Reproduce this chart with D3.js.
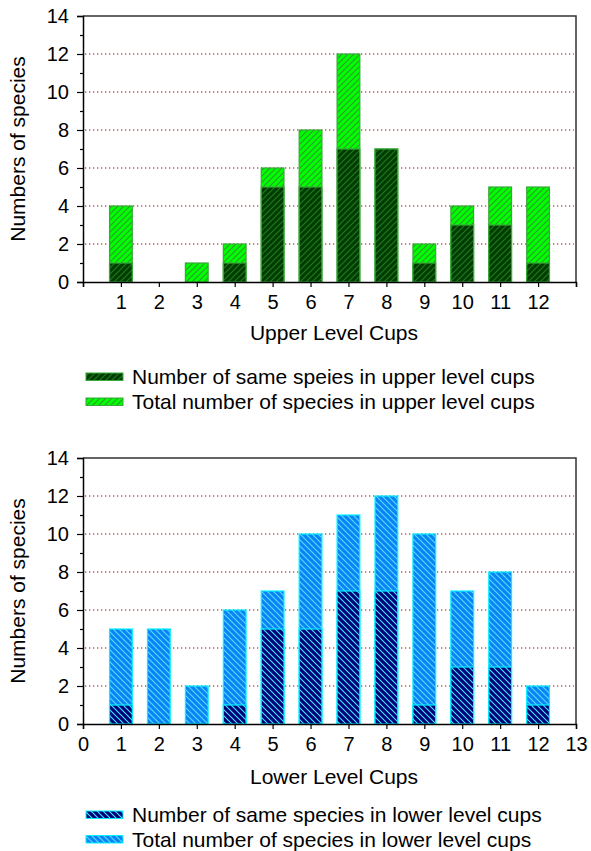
<!DOCTYPE html>
<html>
<head>
<meta charset="utf-8">
<script src="https://cdn.jsdelivr.net/npm/d3@7"></script>
<style>
  html, body { margin: 0; padding: 0; background: #fff; }
  svg { display: block; font-family: "Liberation Sans", Arial, Helvetica, sans-serif; }
</style>
</head>
<body>
<svg id="chart" width="591" height="851"></svg>
<script>
// Cup positions along the x axis
const cups = [1, 2, 3, 4, 5, 6, 7, 8, 9, 10, 11, 12];

// Upper level cups
const upperSame  = [1, 0, 0, 1, 5, 5, 7, 7, 1, 3, 3, 1];
const upperTotal = [4, 0, 1, 2, 6, 8, 12, 7, 2, 4, 5, 5];

// Lower level cups
const lowerSame  = [1, 0, 0, 1, 5, 5, 7, 7, 1, 3, 3, 1];
const lowerTotal = [5, 5, 2, 6, 7, 10, 11, 12, 10, 7, 8, 2];

// Axis ticks
const yMajorTicks = [0, 2, 4, 6, 8, 10, 12, 14];
const yMinorTicks = [1, 3, 5, 7, 9, 11, 13];
const yGridTicks = [2, 4, 6, 8, 10, 12];
const xTicks = [0, 1, 2, 3, 4, 5, 6, 7, 8, 9, 10, 11, 12, 13];
const upperXLabels = [1, 2, 3, 4, 5, 6, 7, 8, 9, 10, 11, 12];
const lowerXLabels = [0, 1, 2, 3, 4, 5, 6, 7, 8, 9, 10, 11, 12, 13];

const svg = d3.select("#chart");
const defs = svg.append("defs");

// Diagonal hatch patterns
function hatch(id, bg, line, dir) {
  const s = 6;
  const p = defs.append("pattern")
    .attr("id", id)
    .attr("patternUnits", "userSpaceOnUse")
    .attr("width", s).attr("height", s);
  p.append("rect").attr("width", s).attr("height", s).attr("fill", bg);
  const d = dir === "/"
    ? `M0,${s} L${s},0 M${-1},1 L1,${-1} M${s - 1},${s + 1} L${s + 1},${s - 1}`
    : `M0,0 L${s},${s} M${-1},${s - 1} L1,${s + 1} M${s - 1},${-1} L${s + 1},1`;
  p.append("path").attr("d", d).attr("stroke", line).attr("stroke-width", 1.1).attr("fill", "none");
}
hatch("upSame", "#003c00", "#1f7a1f", "/");
hatch("upTotal", "#00ff00", "#2a9a2a", "/");
hatch("loSame", "#000078", "#40e8ff", "\\");
hatch("loTotal", "#0a84f5", "#55dcff", "\\");

const left = 83, right = 576;
const x = d3.scaleLinear().domain([0, 13]).range([left, right]);
const barW = (x(1) - x(0)) * 0.6;
const FONT = "'Liberation Sans', Arial, sans-serif";

function panel(cfg) {
  const y = d3.scaleLinear().domain([0, 14]).range([cfg.bottom, cfg.top]);
  const g = svg.append("g");

  // dotted grid lines
  g.append("g").selectAll("line").data(yGridTicks).join("line")
    .attr("x1", left + 2).attr("x2", right - 2)
    .attr("y1", d => y(d)).attr("y2", d => y(d))
    .attr("stroke", "#a00000").attr("stroke-width", 1)
    .attr("stroke-dasharray", "1.3,2.7");

  // frame: top and right edges
  g.append("path")
    .attr("d", `M${left},${cfg.top} H${right} V${cfg.bottom}`)
    .attr("fill", "none").attr("stroke", "#333").attr("stroke-width", 1.5);

  // total bars behind, same-species bars in front
  const bars = g.append("g");
  bars.selectAll("rect.total").data(cups.map((c, i) => ({ c, v: cfg.total[i] })).filter(d => d.v > 0))
    .join("rect").attr("class", "total")
    .attr("x", d => x(d.c) - barW / 2).attr("width", barW)
    .attr("y", d => y(d.v)).attr("height", d => y(0) - y(d.v))
    .attr("fill", `url(#${cfg.totalPat})`)
    .attr("stroke", cfg.border).attr("stroke-width", 1.2);
  bars.selectAll("rect.same").data(cups.map((c, i) => ({ c, v: cfg.same[i] })).filter(d => d.v > 0))
    .join("rect").attr("class", "same")
    .attr("x", d => x(d.c) - barW / 2).attr("width", barW)
    .attr("y", d => y(d.v)).attr("height", d => y(0) - y(d.v))
    .attr("fill", `url(#${cfg.samePat})`)
    .attr("stroke", cfg.border).attr("stroke-width", 1.2);

  // y axis
  const yAxis = g.append("g").attr("transform", `translate(${left},0)`)
    .call(d3.axisLeft(y).tickValues(yMajorTicks).tickSize(6).tickPadding(8).tickFormat(d3.format("d")));
  yAxis.select(".domain").attr("stroke", "#000").attr("stroke-width", 1.5);
  yAxis.selectAll(".tick line").attr("stroke", "#000").attr("stroke-width", 1.2);
  yAxis.selectAll("text").attr("font-size", 20).attr("fill", "#000").attr("font-family", FONT);
  const yMinor = g.append("g").attr("transform", `translate(${left},0)`)
    .call(d3.axisLeft(y).tickValues(yMinorTicks).tickSize(3).tickFormat(""));
  yMinor.select(".domain").remove();
  yMinor.selectAll(".tick line").attr("stroke", "#000").attr("stroke-width", 1.2);

  // x axis
  const xAxis = g.append("g").attr("transform", `translate(0,${cfg.bottom})`)
    .call(d3.axisBottom(x).tickValues(xTicks).tickSize(5).tickPadding(8)
      .tickFormat(d => cfg.xLabels.includes(d) ? d : ""));
  xAxis.select(".domain").attr("stroke", "#000").attr("stroke-width", 1.5);
  xAxis.selectAll(".tick line").attr("stroke", "#000").attr("stroke-width", 1.2);
  xAxis.selectAll("text").attr("font-size", 20).attr("fill", "#000").attr("font-family", FONT);

  // titles
  g.append("text")
    .attr("transform", `translate(25,${(cfg.top + cfg.bottom) / 2}) rotate(-90)`)
    .attr("text-anchor", "middle").attr("font-size", 21).attr("fill", "#000")
    .text("Numbers of species");
  g.append("text")
    .attr("x", 334).attr("y", cfg.bottom + cfg.titleGap)
    .attr("text-anchor", "middle").attr("font-size", 21).attr("fill", "#000")
    .text(cfg.xTitle);

  // legend
  const leg = g.append("g");
  cfg.legend.forEach((item, i) => {
    const ly = cfg.legendY + i * cfg.legendGap;
    leg.append("rect")
      .attr("x", 86).attr("y", ly - 11).attr("width", 37).attr("height", 7.5)
      .attr("fill", `url(#${item.pat})`).attr("stroke", cfg.border).attr("stroke-width", 1);
    leg.append("text")
      .attr("x", 132).attr("y", ly).attr("font-size", 21).attr("fill", "#000")
      .text(item.label);
  });
}

panel({
  top: 16, bottom: 282, titleGap: 58,
  same: upperSame, total: upperTotal,
  samePat: "upSame", totalPat: "upTotal", border: "#3aa83a",
  xLabels: upperXLabels, xTitle: "Upper Level Cups",
  legendY: 384, legendGap: 25,
  legend: [
    { pat: "upSame", label: "Number of same speies in upper level cups" },
    { pat: "upTotal", label: "Total number of species in upper level cups" }
  ]
});

panel({
  top: 458, bottom: 724, titleGap: 60,
  same: lowerSame, total: lowerTotal,
  samePat: "loSame", totalPat: "loTotal", border: "#00f0ff",
  xLabels: lowerXLabels, xTitle: "Lower Level Cups",
  legendY: 822, legendGap: 24.5,
  legend: [
    { pat: "loSame", label: "Number of same species in lower level cups" },
    { pat: "loTotal", label: "Total number of species in lower level cups" }
  ]
});
</script>
</body>
</html>
